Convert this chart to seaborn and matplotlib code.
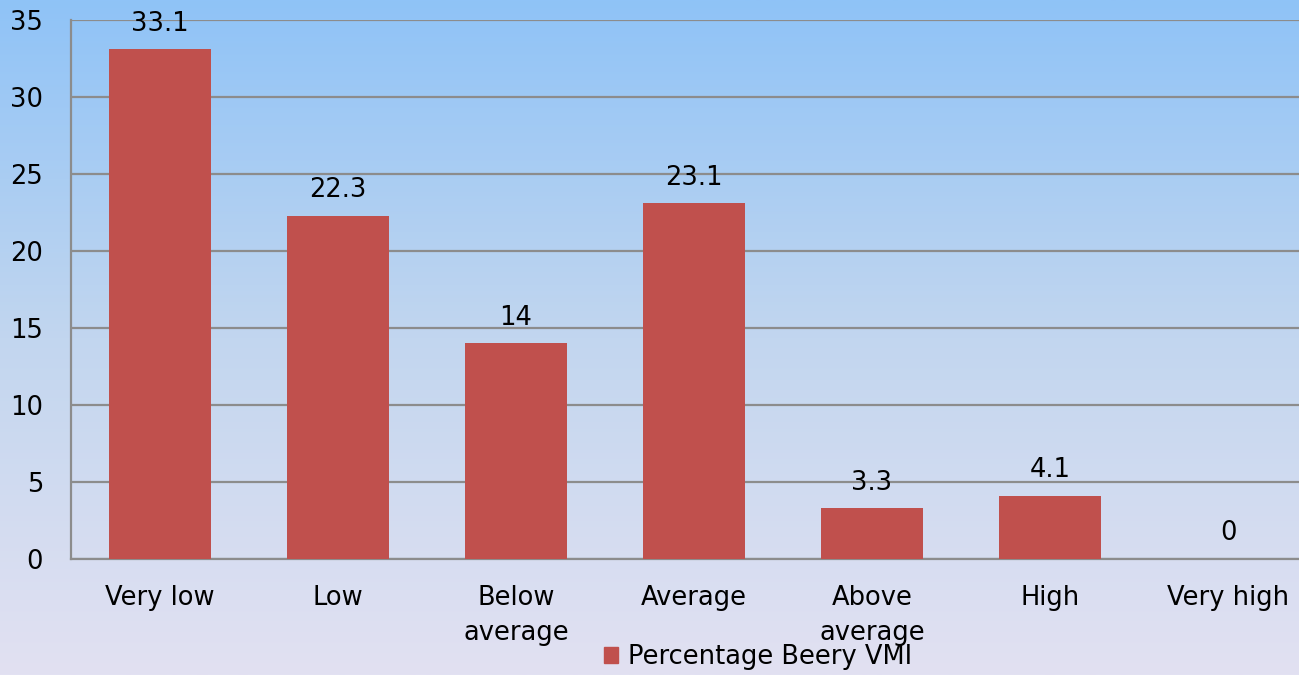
import numpy as np
import pandas as pd
import matplotlib
matplotlib.use("Agg")
import matplotlib.pyplot as plt
import seaborn as sns
from matplotlib.colors import LinearSegmentedColormap
from matplotlib.patches import Patch

categories = ["Very low", "Low", "Below\naverage", "Average", "Above\naverage", "High", "Very high"]
values = [33.1, 22.3, 14, 23.1, 3.3, 4.1, 0]
value_labels = ["33.1", "22.3", "14", "23.1", "3.3", "4.1", "0"]
series_name = "Percentage Beery VMI"

df = pd.DataFrame({"category": categories, "value": values})

sns.set_style("white")
plt.rcParams["font.family"] = ["DejaVu Sans"]
plt.rcParams["text.color"] = "black"

FS = 18.5
W, H = 1299, 675
fig = plt.figure(figsize=(W / 100, H / 100), dpi=100)

# gradient background
bg = fig.add_axes([0, 0, 1, 1], zorder=-10)
cmap = LinearSegmentedColormap.from_list("bg", ["#8fc3f7", "#c2d6ef", "#e2e1f2"])
grad = np.linspace(0, 1, 256).reshape(-1, 1)
bg.imshow(grad, aspect="auto", cmap=cmap, extent=[0, 1, 0, 1], origin="upper")
bg.axis("off")

# plot area: x from 71px to ~1317px, y from 20px (35) to 559px (0)
left, right, top, bottom = 71, 1317, 20, 559
ax = fig.add_axes([left / W, 1 - bottom / H, (right - left) / W, (bottom - top) / H])
ax.patch.set_alpha(0)

sns.barplot(data=df, x="category", y="value", color="#c0504d", width=0.57,
            saturation=1, ax=ax, zorder=3, edgecolor="none", linewidth=0)

ax.set_ylim(0, 35)
ax.set_xlim(-0.5, len(categories) - 0.5)
ax.set_yticks(range(0, 36, 5))
ax.yaxis.grid(True, color="#8c8c8c", linewidth=1.6)
ax.set_axisbelow(True)
for s in ["top", "right"]:
    ax.spines[s].set_visible(False)
for s in ["left", "bottom"]:
    ax.spines[s].set_color("#8c8c8c")
    ax.spines[s].set_linewidth(1.6)
ax.tick_params(axis="both", length=0, labelsize=FS, colors="black")
ax.tick_params(axis="x", pad=19)
ax.tick_params(axis="y", pad=20)
for lab in ax.get_xticklabels():
    lab.set_linespacing(1.45)
ax.set_xlabel("")
ax.set_ylabel("")

for i, (v, t) in enumerate(zip(values, value_labels)):
    ax.annotate(t, (i, v), xytext=(0, 9), textcoords="offset points",
                ha="center", va="bottom", fontsize=FS, color="black")

fig.legend(handles=[Patch(color="#c0504d", label=series_name)],
           loc="center", bbox_to_anchor=(758 / W, 1 - 657 / H), frameon=False,
           fontsize=FS, handlelength=0.55, handleheight=0.55, handletextpad=0.4)

fig.savefig("out.png", dpi=100)
